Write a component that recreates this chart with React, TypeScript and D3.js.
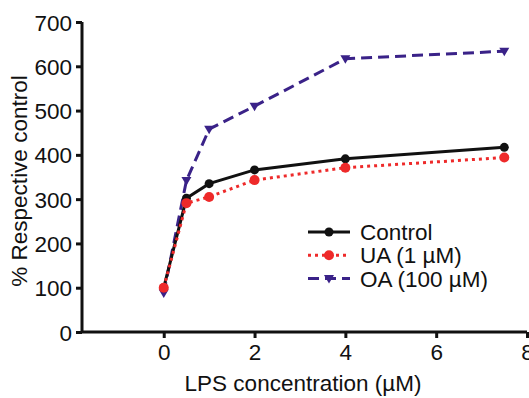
import * as d3 from 'd3';
import { useEffect, useRef } from 'react';

// LPS concentrations (µM)
const concentrations = [0, 0.5, 1, 2, 4, 7.5];
const controlValues = [100, 302, 335, 366, 391, 417];
const uaValues = [100, 291, 305, 343, 371, 394];
const oaValues = [88, 342, 458, 510, 617, 634];
const yTicks = [0, 100, 200, 300, 400, 500, 600, 700];
const xTicks = [0, 2, 4, 6, 8];

const series = [
    { name: 'Control', values: controlValues, color: '#111111', dash: null, marker: 'circle', r: 4.5 },
    { name: 'UA (1 µM)', values: uaValues, color: '#ee2a2a', dash: '3,4', marker: 'circle', r: 5 },
    { name: 'OA (100 µM)', values: oaValues, color: '#3a2288', dash: '11,6', marker: 'triangle', r: 5 },
];

const App = () => {
    const ref = useRef<SVGSVGElement>(null);

    useEffect(() => {
        const width = 529;
        const height = 398;
        const margin = { top: 22, right: 2, bottom: 66, left: 82 };
        const innerW = width - margin.left - margin.right;
        const innerH = height - margin.top - margin.bottom;
        const font = 'Arial, "Liberation Sans", sans-serif';

        const svgRoot = d3.select(ref.current);
        svgRoot.selectAll('*').remove();
        const svg = svgRoot.append('g').attr('transform', `translate(${margin.left},${margin.top})`);

        const x = d3.scaleLinear().domain([-1.8, 8]).range([0, innerW]);
        const y = d3.scaleLinear().domain([0, 700]).range([innerH, 0]);

        // Y axis
        const yAxisG = svg.append('g')
            .call(d3.axisLeft(y).tickValues(yTicks).tickSize(6).tickPadding(4).tickFormat(d3.format('d')));
        yAxisG.select('.domain').attr('stroke', '#111').attr('stroke-width', 3).attr('d', `M0,${innerH}V0`);
        yAxisG.selectAll('line').attr('stroke', '#111').attr('stroke-width', 3);
        yAxisG.selectAll('text').style('font-size', '22.5px').style('font-family', font).attr('fill', '#111').attr('dy', '0.36em');

        // X axis
        const xAxisG = svg.append('g')
            .attr('transform', `translate(0,${innerH})`)
            .call(d3.axisBottom(x).tickValues(xTicks).tickSize(6).tickPadding(6).tickFormat(d3.format('d')));
        xAxisG.select('.domain').attr('stroke', '#111').attr('stroke-width', 3).attr('d', `M0,0H${innerW}`);
        xAxisG.selectAll('line').attr('stroke', '#111').attr('stroke-width', 3);
        xAxisG.selectAll('text').style('font-size', '22.5px').style('font-family', font).attr('fill', '#111');

        // Axis labels
        svg.append('text')
            .attr('x', 221)
            .attr('y', innerH + 59)
            .attr('text-anchor', 'middle')
            .style('font-size', '22.5px')
            .style('font-family', font)
            .attr('fill', '#111')
            .text('LPS concentration (µM)');

        svg.append('text')
            .attr('transform', 'rotate(-90)')
            .attr('x', -159)
            .attr('y', -55)
            .attr('text-anchor', 'middle')
            .style('font-size', '22.5px')
            .style('font-family', font)
            .attr('fill', '#111')
            .text('% Respective control');

        const triangle = (s: number) => `M${-s},${-s * 0.7}L${s},${-s * 0.7}L0,${s * 1.0}Z`;

        const drawMarker = (g: any, s: any, cx: number, cy: number) => {
            if (s.marker === 'circle') {
                g.append('circle').attr('cx', cx).attr('cy', cy).attr('r', s.r).attr('fill', s.color);
            } else {
                g.append('path').attr('d', triangle(s.r)).attr('transform', `translate(${cx},${cy})`).attr('fill', s.color);
            }
        };

        const line = d3.line<number>()
            .x((_, i) => x(concentrations[i]))
            .y((d) => y(d));

        // draw OA first, then Control, then UA on top
        [series[2], series[0], series[1]].forEach((s) => {
            svg.append('path')
                .datum(s.values)
                .attr('d', line)
                .attr('fill', 'none')
                .attr('stroke', s.color)
                .attr('stroke-width', 3)
                .attr('stroke-dasharray', s.dash);
            const g = svg.append('g');
            s.values.forEach((v, i) => drawMarker(g, s, x(concentrations[i]), y(v)));
        });

        // Legend
        const legend = svg.append('g').attr('transform', `translate(${308 - margin.left},${232 - margin.top})`);
        series.forEach((s, i) => {
            const row = legend.append('g').attr('transform', `translate(0,${i * 23.3})`);
            row.append('line')
                .attr('x1', 0).attr('x2', 42).attr('y1', 0).attr('y2', 0)
                .attr('stroke', s.color).attr('stroke-width', 3)
                .attr('stroke-dasharray', s.dash);
            drawMarker(row, s, 21, 0);
            row.append('text')
                .attr('x', 52)
                .attr('y', 0)
                .attr('dy', '0.36em')
                .style('font-size', '22.5px')
                .style('font-family', font)
                .attr('fill', '#111')
                .text(s.name);
        });
    }, []);

    return (
        <svg ref={ref} width={529} height={398}
            style={{ position: 'absolute', left: 0, top: 0, background: '#fff' }} />
    );
};

export default App;
